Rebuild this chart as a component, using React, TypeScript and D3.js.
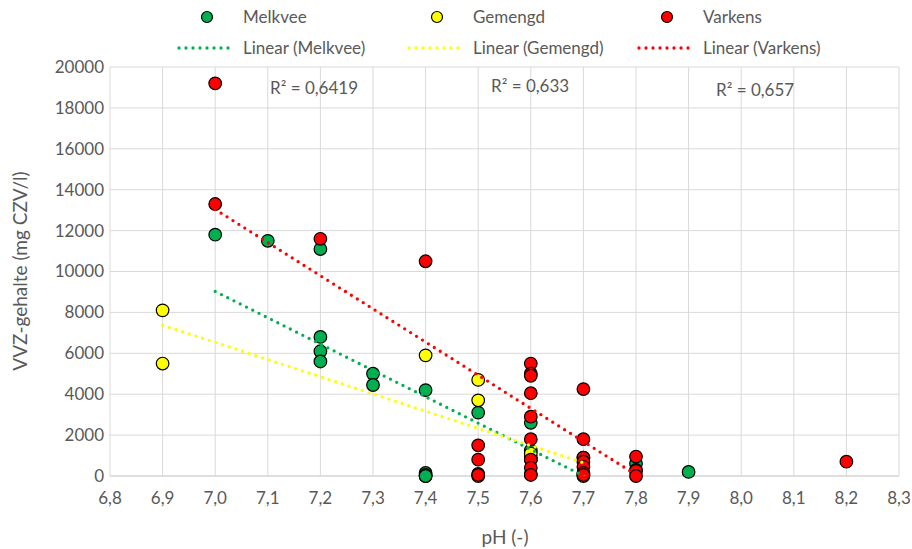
import * as d3 from 'd3';
import React from 'react';

// pH (-) and VVZ-gehalte (mg CZV/l) per sample
// (some markers sit under others, those values are estimates)
const melkveePH = [7.0, 7.1, 7.2, 7.2, 7.2, 7.2, 7.3, 7.3, 7.4, 7.4, 7.4, 7.4, 7.4, 7.5, 7.5, 7.6, 7.6, 7.6, 7.6, 7.7, 7.8, 7.8, 7.9];
const melkveeCZV = [11800, 11500, 11100, 6800, 6100, 5600, 5000, 4450, 4200, 150, 50, 0, 0, 3100, 100, 2600, 1250, 900, 800, 900, 600, 300, 200];

const gemengdPH = [6.9, 6.9, 7.4, 7.5, 7.5, 7.5, 7.6, 7.6, 7.7, 7.7];
const gemengdCZV = [8100, 5500, 5900, 4700, 3700, 0, 1100, 100, 100, 0];

const varkensPH = [7.0, 7.0, 7.2, 7.4, 7.5, 7.5, 7.5, 7.6, 7.6, 7.6, 7.6, 7.6, 7.6, 7.6, 7.6, 7.6, 7.7, 7.7, 7.7, 7.7, 7.7, 7.7, 7.7, 7.8, 7.8, 7.8, 8.2];
const varkensCZV = [19200, 13300, 11600, 10500, 1500, 800, 50, 5500, 5000, 4900, 4050, 2900, 1800, 800, 400, 50, 4250, 1800, 900, 700, 450, 150, 50, 950, 250, 0, 700];

const seriesNames = ['Melkvee', 'Gemengd', 'Varkens'];
const seriesColors = ['#00b050', '#ffff00', '#ff0000'];
const rSquaredLabels = ['R² = 0,6419', 'R² = 0,633', 'R² = 0,657'];

const xDomain = [6.8, 8.3];
const yDomain = [0, 20000];

// chart layout
const width = 912;
const height = 549;
const margin = { top: 67, right: 13, bottom: 73, left: 110 };
const font = 'Lato, "Open Sans", sans-serif';
const textColor = '#595959';
const rLabelPos = [[270, 94], [491, 92], [716, 96]];
const legendCols = [243, 473, 703];

// least squares fit like Excel's linear trendline
const fit = (xs, ys) => {
    const mx = d3.mean(xs);
    const my = d3.mean(ys);
    let sxy = 0;
    let sxx = 0;
    xs.forEach((x, i) => {
        sxy += (x - mx) * (ys[i] - my);
        sxx += (x - mx) * (x - mx);
    });
    const slope = sxy / sxx;
    return (x) => my + slope * (x - mx);
};

const App = () => {
    const x = d3.scaleLinear().domain(xDomain).range([margin.left, width - margin.right]);
    const y = d3.scaleLinear().domain(yDomain).range([height - margin.bottom, margin.top]);
    const fmt = (v) => d3.format('.1f')(v).replace('.', ',');

    const series = [
        { ph: melkveePH, czv: melkveeCZV },
        { ph: gemengdPH, czv: gemengdCZV },
        { ph: varkensPH, czv: varkensCZV },
    ];

    const line = d3.line().x((d) => x(d[0])).y((d) => y(d[1]));

    return (
        <svg width={width} height={height} style={{ position: 'absolute', left: 0, top: 0 }} fontFamily={font}>
            <defs>
                <clipPath id="plot">
                    <rect x={margin.left} y={margin.top} width={width - margin.left - margin.right} height={height - margin.top - margin.bottom} />
                </clipPath>
            </defs>

            {/* gridlines */}
            {y.ticks(10).map((t) => (
                <line key={'gy' + t} x1={margin.left} x2={width - margin.right} y1={y(t)} y2={y(t)}
                    stroke={t === 0 ? '#bfbfbf' : '#d9d9d9'} strokeWidth={1} />
            ))}
            {x.ticks(15).map((t) => (
                <line key={'gx' + t} x1={x(t)} x2={x(t)} y1={margin.top} y2={height - margin.bottom}
                    stroke="#d9d9d9" strokeWidth={1} />
            ))}

            {/* tick labels */}
            {y.ticks(10).map((t) => (
                <text key={'ty' + t} x={margin.left - 6} y={y(t)} dy="0.35em" textAnchor="end"
                    fontSize={17} fill={textColor}>{t}</text>
            ))}
            {x.ticks(15).map((t) => (
                <text key={'tx' + t} x={x(t)} y={height - margin.bottom + 22} dy="0.35em" textAnchor="middle"
                    fontSize={17} fill={textColor}>{fmt(t)}</text>
            ))}

            {/* axis titles */}
            <text x={505} y={537} dy="0.35em" textAnchor="middle" fontSize={19} fill={textColor}>pH (-)</text>
            <text transform="translate(20,271) rotate(-90)" dy="0.35em" textAnchor="middle" fontSize={19} fill={textColor}>
                VVZ-gehalte (mg CZV/l)
            </text>

            {/* markers */}
            {series.map((s, si) => (
                <g key={'s' + si}>
                    {s.ph.map((p, i) => (
                        <circle key={i} cx={x(p)} cy={y(s.czv[i])} r={6.3}
                            fill={seriesColors[si]} stroke="#000" strokeWidth={1.2} />
                    ))}
                </g>
            ))}

            {/* trendlines */}
            <g clipPath="url(#plot)">
                {series.map((s, si) => {
                    const f = fit(s.ph, s.czv);
                    const [x0, x1] = d3.extent(s.ph);
                    return (
                        <path key={'tl' + si} d={line([[x0, f(x0)], [x1, f(x1)]])} fill="none"
                            stroke={seriesColors[si]} strokeWidth={3.3} strokeDasharray="0 7" strokeLinecap="round" />
                    );
                })}
            </g>

            {/* R² labels */}
            {rSquaredLabels.map((l, i) => (
                <text key={'r' + i} x={rLabelPos[i][0]} y={rLabelPos[i][1]} fontSize={17} fill={textColor}>{l}</text>
            ))}

            {/* legend */}
            {seriesNames.map((n, i) => (
                <g key={'lg' + i}>
                    <circle cx={legendCols[i] - 36} cy={17} r={5.5} fill={seriesColors[i]} stroke="#000" strokeWidth={1.2} />
                    <text x={legendCols[i]} y={17} dy="0.35em" fontSize={17} fill={textColor}>{n}</text>
                    <line x1={legendCols[i] - 64} x2={legendCols[i] - 12} y1={48} y2={48}
                        stroke={seriesColors[i]} strokeWidth={3.3} strokeDasharray="0 7" strokeLinecap="round" />
                    <text x={legendCols[i]} y={48} dy="0.35em" fontSize={17} fill={textColor}>Linear ({n})</text>
                </g>
            ))}
        </svg>
    );
};

export default App;
